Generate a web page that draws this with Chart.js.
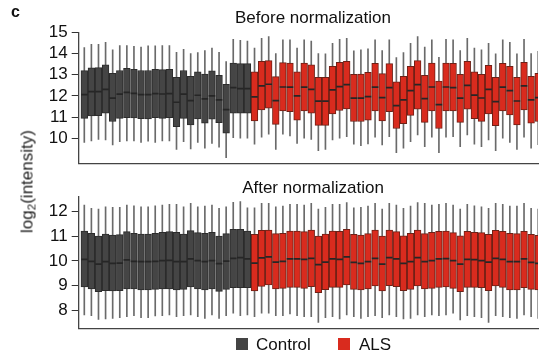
<!DOCTYPE html>
<html>
<head>
<meta charset="utf-8">
<script src="https://cdn.jsdelivr.net/npm/chart.js@4.4.1/dist/chart.umd.min.js"></script>
<style>
  body { margin: 0; background: #fff; }
  #wrap { position: relative; width: 543px; height: 355px; overflow: hidden; font-family: "Liberation Sans", Arial, Helvetica, sans-serif; color: #111; }
  #wrap canvas { position: absolute; left: 0; top: 0; }
  .txt { position: absolute; white-space: nowrap; line-height: 1; font-weight: 400; }
  .ttl { width: 240px; text-align: center; font-size: 17px; }
  .sq { position: absolute; width: 12px; height: 12px; }
</style>
</head>
<body>
<div id="wrap">
  <canvas id="beforeChart" width="543" height="355"></canvas>
  <canvas id="afterChart" width="543" height="355"></canvas>
  <div class="txt" style="left:11px; top:4px; font-size:16px; font-weight:bold;">c</div>
  <div class="txt ttl" style="left:193px; top:9px;">Before normalization</div>
  <div class="txt ttl" style="left:193px; top:179px;">After normalization</div>
  <div class="txt" style="left:-73px; top:173px; width:200px; text-align:center; font-size:17px; color:#222; transform:rotate(-90deg);">log<sub style="font-size:0.68em; line-height:0; vertical-align:-0.28em;">2</sub>(intensity)</div>
  <div class="sq" style="left:236px; top:338px; background:#444;"></div>
  <div class="txt" style="left:256px; top:336px; font-size:17px;">Control</div>
  <div class="sq" style="left:338px; top:338px; background:#d92b1e;"></div>
  <div class="txt" style="left:359px; top:336px; font-size:17px;">ALS</div>
</div>
<script>
// groups: first 24 samples are controls, the remaining 41 are ALS
const groupNames = ["Control", "ALS"];
const controlCount = 24;
const alsCount = 41;

const beforeTicks = [10, 11, 12, 13, 14, 15];
const afterTicks = [8, 9, 10, 11, 12];

// Before normalization (box stats per sample)
const beforeMin = [9.80, 9.87, 9.95, 9.92, 9.69, 9.84, 9.87, 9.87, 9.81, 9.86, 9.81, 9.87, 9.87, 9.48, 9.84, 9.50,
  9.80, 9.53, 9.76, 9.58, 9.09, 10.03, 10.00, 10.00, 9.72, 10.05, 10.19, 9.48, 10.19, 10.11, 9.76, 10.00,
  9.95, 9.42, 9.48, 9.92, 10.00, 10.08, 9.72, 9.65, 9.73, 10.05, 9.69, 10.08, 9.32, 9.53, 9.84, 10.16,
  9.60, 10.05, 9.32, 10.05, 10.08, 9.60, 10.16, 9.72, 9.60, 9.92, 9.42, 10.00, 9.81, 9.48, 10.05, 9.53, 9.70];
const beforeQ1 = [10.94, 11.05, 11.07, 11.18, 10.79, 10.94, 10.97, 10.96, 10.93, 10.91, 10.97, 10.94, 10.97, 10.55, 10.94, 10.63,
  10.91, 10.71, 10.90, 10.74, 10.24, 11.19, 11.19, 11.19, 10.82, 11.34, 11.42, 10.66, 11.29, 11.26, 10.86, 11.29,
  11.18, 10.61, 10.61, 11.15, 11.31, 11.38, 10.79, 10.79, 10.86, 11.29, 10.82, 11.26, 10.46, 10.69, 11.08, 11.37,
  10.75, 11.29, 10.46, 11.29, 11.29, 10.75, 11.37, 10.93, 10.80, 11.15, 10.60, 11.29, 11.10, 10.63, 11.34, 10.71, 10.79];
const beforeMedian = [12.06, 12.20, 12.20, 12.31, 11.89, 12.08, 12.17, 12.12, 12.06, 12.06, 12.11, 12.09, 12.11, 11.70, 12.08, 11.78,
  12.03, 11.86, 12.00, 11.81, 11.35, 12.39, 12.34, 12.34, 11.95, 12.47, 12.55, 11.78, 12.42, 12.41, 12.00, 12.41,
  12.31, 11.75, 11.75, 12.28, 12.44, 12.53, 11.89, 11.89, 11.97, 12.41, 11.92, 12.39, 11.54, 11.81, 12.25, 12.53,
  11.87, 12.42, 11.59, 12.42, 12.39, 11.89, 12.50, 12.04, 11.90, 12.31, 11.73, 12.41, 12.25, 11.76, 12.47, 11.81, 11.92];
const beforeQ3 = [13.19, 13.32, 13.33, 13.46, 13.07, 13.20, 13.30, 13.25, 13.20, 13.20, 13.25, 13.24, 13.25, 12.88, 13.20, 12.92,
  13.14, 13.03, 13.18, 12.97, 12.55, 13.55, 13.52, 13.52, 13.13, 13.63, 13.66, 12.91, 13.57, 13.55, 13.14, 13.55,
  13.46, 12.88, 12.88, 13.40, 13.58, 13.63, 13.02, 13.03, 13.11, 13.54, 13.05, 13.52, 12.66, 12.92, 13.40, 13.66,
  12.97, 13.55, 12.70, 13.55, 13.54, 13.02, 13.63, 13.14, 13.02, 13.44, 12.88, 13.54, 13.40, 12.88, 13.58, 12.92, 13.06];
const beforeMax = [14.28, 14.43, 14.43, 14.53, 14.17, 14.37, 14.37, 14.34, 14.30, 14.36, 14.36, 14.37, 14.37, 14.06, 14.20, 14.00,
  14.04, 14.14, 14.25, 14.06, 13.62, 14.67, 14.62, 14.59, 14.25, 14.72, 14.80, 14.00, 14.64, 14.64, 14.25, 14.64,
  14.59, 14.00, 13.98, 14.48, 14.67, 14.72, 14.12, 14.17, 14.22, 14.64, 14.14, 14.64, 13.81, 14.04, 14.48, 14.80,
  14.30, 14.64, 13.82, 14.67, 14.64, 14.14, 14.72, 14.25, 14.17, 14.48, 13.98, 14.64, 14.53, 13.98, 14.67, 14.00, 14.10];

// After normalization
const afterMin = [7.80, 7.77, 7.62, 7.64, 7.66, 7.69, 7.73, 7.77, 7.69, 7.69, 7.76, 7.77, 7.80, 7.73, 7.77, 7.80,
  7.73, 7.66, 7.80, 7.66, 7.77, 7.87, 7.77, 7.80, 7.73, 7.87, 7.87, 7.77, 7.77, 7.84, 7.77, 7.73,
  7.73, 7.50, 7.69, 7.73, 7.64, 7.80, 7.73, 7.66, 7.73, 7.77, 7.69, 7.80, 7.73, 7.64, 7.66, 7.80,
  7.73, 7.80, 7.77, 7.80, 7.87, 7.60, 7.77, 7.73, 7.69, 7.50, 7.77, 7.73, 7.69, 7.66, 7.80, 7.73, 7.66];
const afterQ1 = [8.94, 8.86, 8.75, 8.79, 8.78, 8.79, 8.86, 8.86, 8.82, 8.82, 8.84, 8.86, 8.86, 8.82, 8.84, 8.94,
  8.86, 8.82, 8.86, 8.76, 8.84, 8.91, 8.91, 8.91, 8.78, 8.96, 9.02, 8.86, 8.88, 8.92, 8.92, 8.88,
  8.95, 8.71, 8.83, 8.92, 8.92, 9.02, 8.84, 8.82, 8.86, 8.98, 8.78, 8.99, 8.95, 8.79, 8.84, 8.98,
  8.86, 8.88, 8.92, 8.94, 8.88, 8.75, 8.92, 8.92, 8.91, 8.79, 8.98, 8.92, 8.82, 8.82, 8.91, 8.84, 8.82];
const afterMedian = [10.06, 9.98, 9.87, 9.97, 9.90, 9.91, 10.04, 9.98, 9.97, 9.97, 9.98, 10.01, 10.02, 9.97, 9.97, 10.08,
  10.01, 9.97, 10.01, 9.89, 9.99, 10.10, 10.13, 10.08, 9.91, 10.12, 10.16, 9.95, 9.98, 10.08, 10.08, 10.06,
  10.10, 9.85, 9.95, 10.08, 10.06, 10.16, 9.94, 9.90, 9.97, 10.10, 9.87, 10.13, 10.08, 9.90, 9.97, 10.13,
  9.97, 10.01, 10.08, 10.09, 10.01, 9.87, 10.06, 10.05, 10.01, 9.95, 10.10, 10.06, 9.97, 9.97, 10.08, 9.94, 9.90];
const afterQ3 = [11.21, 11.12, 11.01, 11.09, 11.05, 11.07, 11.19, 11.12, 11.09, 11.09, 11.12, 11.16, 11.19, 11.16, 11.09, 11.23,
  11.15, 11.12, 11.16, 11.01, 11.11, 11.28, 11.28, 11.21, 11.08, 11.24, 11.25, 11.11, 11.12, 11.21, 11.21, 11.19,
  11.25, 11.01, 11.09, 11.21, 11.20, 11.28, 11.08, 11.05, 11.11, 11.25, 11.01, 11.25, 11.19, 11.02, 11.12, 11.25,
  11.11, 11.16, 11.20, 11.21, 11.15, 11.02, 11.20, 11.16, 11.15, 11.08, 11.24, 11.20, 11.12, 11.11, 11.20, 11.08, 11.04];
const afterMax = [12.27, 12.14, 12.11, 12.20, 12.18, 12.18, 12.27, 12.24, 12.20, 12.20, 12.24, 12.27, 12.30, 12.30, 12.20, 12.34,
  12.20, 12.23, 12.27, 12.14, 12.20, 12.38, 12.41, 12.16, 12.16, 12.34, 12.34, 12.20, 12.23, 12.30, 12.30, 12.27,
  12.34, 12.11, 12.18, 12.30, 12.30, 12.37, 12.16, 12.18, 12.23, 12.34, 12.11, 12.34, 12.27, 12.14, 12.23, 12.37,
  12.34, 12.27, 12.30, 12.34, 12.27, 12.11, 12.30, 12.24, 12.20, 12.14, 12.34, 12.30, 12.23, 12.23, 12.34, 12.14, 12.11];

const FONT = "'Liberation Sans', Arial, Helvetica, sans-serif";
const controlFill = "#454545";
const controlEdge = "#2c2c2c";
const alsFill = "#d92b1e";
const alsEdge = "#6e2016";

const sampleCount = controlCount + alsCount;
const isControl = (i) => i < controlCount;

// one box plot panel; both canvases cover the whole figure, layout padding places the plot area
const makePanel = (id, stats, yMin, yMax, yTicks, top, bottom) => {
  const whiskers = [];
  const boxes = [];
  const medians = [];
  for (let i = 0; i < sampleCount; i++) {
    whiskers.push({ x: i, y: [stats.min[i], stats.max[i]] });
    boxes.push({ x: i, y: [stats.q1[i], stats.q3[i]] });
    medians.push({ x: i, y: stats.median[i] });
  }
  const fills = boxes.map((b, i) => (isControl(i) ? controlFill : alsFill));
  const edges = boxes.map((b, i) => (isControl(i) ? controlEdge : alsEdge));

  return new Chart(document.getElementById(id), {
    type: "bar",
    data: {
      datasets: [
        {
          type: "scatter",
          data: medians,
          showLine: false,
          pointStyle: "line",
          pointRadius: 3.3,
          pointHoverRadius: 3.3,
          pointBorderWidth: 1.7,
          pointBorderColor: "#262626",
          order: 0,
        },
        {
          data: boxes,
          grouped: false,
          barThickness: 6.7,
          backgroundColor: fills,
          borderColor: edges,
          borderWidth: 1,
          borderSkipped: false,
          order: 1,
        },
        {
          data: whiskers,
          grouped: false,
          barThickness: 1,
          backgroundColor: "#6a6a6a",
          borderWidth: 0,
          order: 2,
        },
      ],
    },
    options: {
      responsive: false,
      animation: false,
      events: [],
      layout: { padding: { top: top, left: 0, right: 0, bottom: 0 } },
      plugins: { legend: { display: false }, tooltip: { enabled: false } },
      scales: {
        x: {
          type: "linear",
          min: -0.79,
          max: 63.97,
          offset: false,
          ticks: { display: false },
          grid: { display: false },
          border: { display: true, color: "#444", width: 1.3 },
          afterFit: (scale) => {
            scale.height = 355 - bottom;
          },
        },
        y: {
          min: yMin,
          max: yMax,
          afterBuildTicks: (scale) => {
            scale.ticks = yTicks.map((v) => ({ value: v }));
          },
          afterFit: (scale) => {
            scale.width = 78.7;
          },
          ticks: {
            color: "#111",
            padding: 4,
            font: { family: FONT, size: 17 },
          },
          grid: {
            display: true,
            drawOnChartArea: false,
            drawTicks: true,
            tickLength: 7,
            color: "#333",
            lineWidth: 1,
          },
          border: { display: true, color: "#444", width: 1.3 },
        },
      },
    },
  });
};

makePanel(
  "beforeChart",
  { min: beforeMin, q1: beforeQ1, median: beforeMedian, q3: beforeQ3, max: beforeMax },
  8.82, 15, beforeTicks, 32.3, 163.3
);
makePanel(
  "afterChart",
  { min: afterMin, q1: afterQ1, median: afterMedian, q3: afterQ3, max: afterMax },
  7.24, 12.61, afterTicks, 196.7, 328.7
);
</script>
</body>
</html>
